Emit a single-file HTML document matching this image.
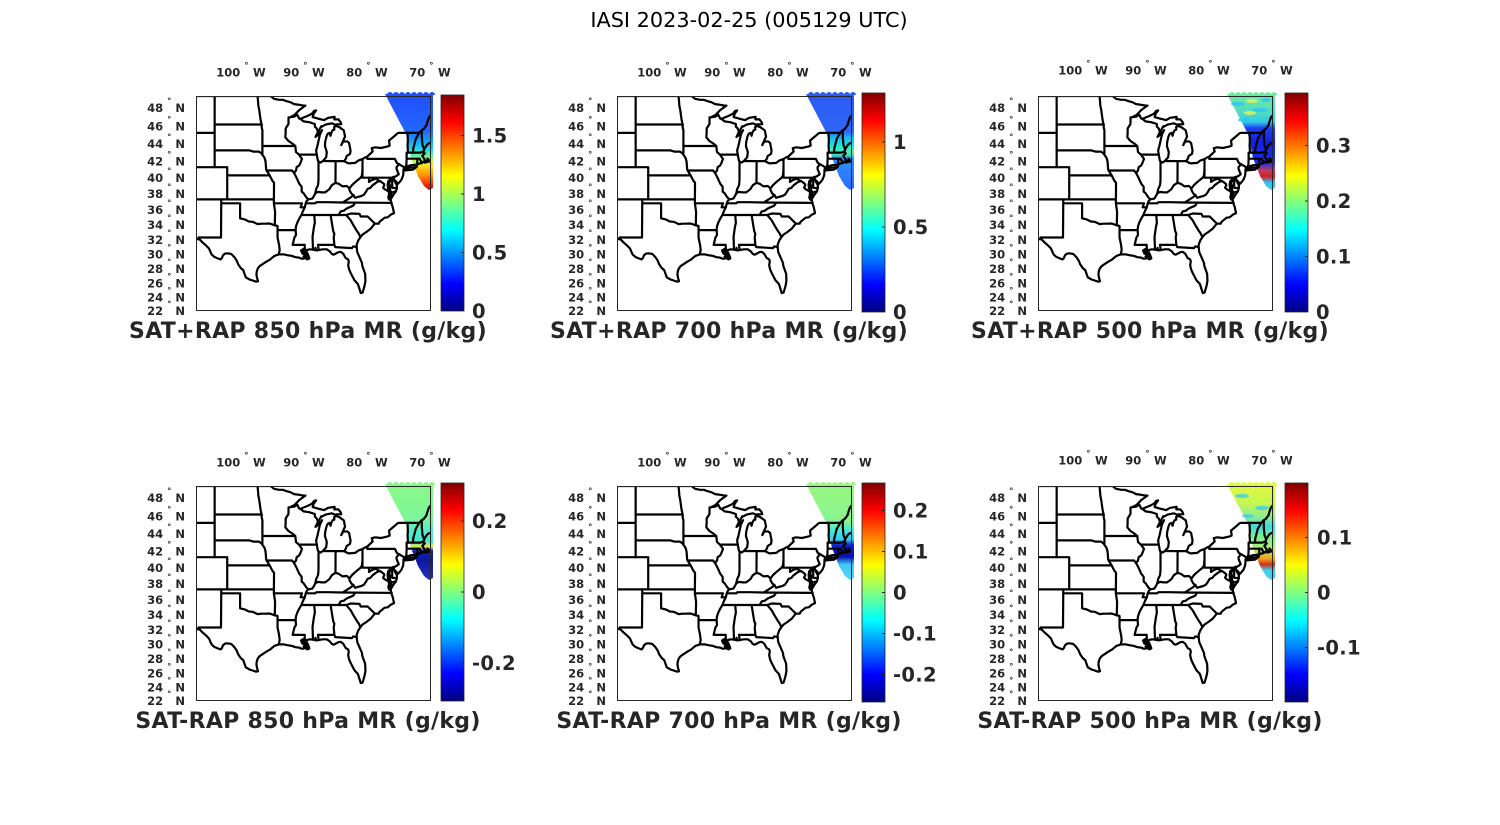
<!DOCTYPE html>
<html><head><meta charset="utf-8">
<style>
html,body{margin:0;padding:0;background:#fff;}
svg{display:block}
text{font-family:"DejaVu Sans","Liberation Sans",sans-serif;fill:#262626}
.ll{font-size:11.5px;font-weight:bold}
.cb{font-size:19.5px;font-weight:bold;letter-spacing:0.3px}
.tt{font-size:22px;font-weight:bold;letter-spacing:0.3px}
.mt{font-size:20.8px;fill:#000}
.mp polyline,.mp polygon{fill:none;stroke:#000;stroke-width:2.2;stroke-linejoin:round;stroke-linecap:round;vector-effect:non-scaling-stroke}
.mp .blob{fill:#000}
</style></head><body>
<svg width="1500" height="825" viewBox="0 0 1500 825" xmlns="http://www.w3.org/2000/svg">
<defs>
<clipPath id="bc"><rect x="0" y="0" width="234" height="214"/></clipPath>
<linearGradient id="jet" x1="0" y1="1" x2="0" y2="0">
<stop offset="0" stop-color="#000080"/><stop offset="0.125" stop-color="#0000ff"/><stop offset="0.375" stop-color="#00ffff"/><stop offset="0.625" stop-color="#ffff00"/><stop offset="0.875" stop-color="#ff0000"/><stop offset="1" stop-color="#800000"/>
</linearGradient>
<linearGradient id="s1" gradientUnits="userSpaceOnUse" x1="0" y1="-3" x2="0" y2="94">
<stop offset="0.03" stop-color="#2050ff"/><stop offset="0.39" stop-color="#2565ff"/><stop offset="0.49" stop-color="#10a0ff"/><stop offset="0.58" stop-color="#20d8e8"/><stop offset="0.68" stop-color="#90ff70"/><stop offset="0.75" stop-color="#ffe020"/><stop offset="0.84" stop-color="#ff9a00"/><stop offset="0.92" stop-color="#ff4000"/><stop offset="1" stop-color="#d00000"/>
</linearGradient>
<linearGradient id="s2" gradientUnits="userSpaceOnUse" x1="0" y1="-3" x2="0" y2="94">
<stop offset="0.03" stop-color="#2c5cf2"/><stop offset="0.40" stop-color="#2e66f6"/><stop offset="0.46" stop-color="#18b8f0"/><stop offset="0.55" stop-color="#20e8d8"/><stop offset="0.62" stop-color="#50f0a0"/><stop offset="0.68" stop-color="#2a90ff"/><stop offset="1" stop-color="#2f6cff"/>
</linearGradient>
<linearGradient id="s3" gradientUnits="userSpaceOnUse" x1="0" y1="-3" x2="0" y2="94">
<stop offset="0" stop-color="#70eca0"/><stop offset="0.2" stop-color="#50dcc0"/><stop offset="0.3" stop-color="#30c8e8"/><stop offset="0.36" stop-color="#2040f0"/><stop offset="0.5" stop-color="#1020e0"/><stop offset="0.72" stop-color="#1a30e8"/><stop offset="0.8" stop-color="#c04060"/><stop offset="0.86" stop-color="#d02020"/><stop offset="0.92" stop-color="#30c0f0"/><stop offset="1" stop-color="#40d0f0"/>
</linearGradient>
<linearGradient id="s4" gradientUnits="userSpaceOnUse" x1="0" y1="-3" x2="0" y2="94">
<stop offset="0.03" stop-color="#88f888"/><stop offset="0.38" stop-color="#7ef598"/><stop offset="0.48" stop-color="#50eec8"/><stop offset="0.6" stop-color="#48e8d0"/><stop offset="0.66" stop-color="#e8e840"/><stop offset="0.70" stop-color="#1020b0"/><stop offset="0.8" stop-color="#1018a0"/><stop offset="1" stop-color="#2030c0"/>
</linearGradient>
<linearGradient id="s5" gradientUnits="userSpaceOnUse" x1="0" y1="-3" x2="0" y2="94">
<stop offset="0.03" stop-color="#98f880"/><stop offset="0.4" stop-color="#88f490"/><stop offset="0.48" stop-color="#48e8d8"/><stop offset="0.58" stop-color="#30d0f0"/><stop offset="0.64" stop-color="#1020c8"/><stop offset="0.76" stop-color="#0a10b0"/><stop offset="0.84" stop-color="#40c8f8"/><stop offset="1" stop-color="#50d8f8"/>
</linearGradient>
<linearGradient id="s6" gradientUnits="userSpaceOnUse" x1="0" y1="-3" x2="0" y2="94">
<stop offset="0.03" stop-color="#e0f840"/><stop offset="0.2" stop-color="#c8f850"/><stop offset="0.35" stop-color="#90ec90"/><stop offset="0.45" stop-color="#40d8e0"/><stop offset="0.55" stop-color="#78f090"/><stop offset="0.68" stop-color="#b0f070"/><stop offset="0.78" stop-color="#f0a020"/><stop offset="0.84" stop-color="#d03020"/><stop offset="0.9" stop-color="#40d0f0"/><stop offset="1" stop-color="#40d0f0"/>
</linearGradient>
<path id="sw" d="M189,-2 L237,-2 L237,92 L233,94 L228,90 L222,80 L215,62 L210,38 Z M191,-1 a3,3 0 1,1 6,0 a3,3 0 1,1 6,0 a3,3 0 1,1 6,0 a3,3 0 1,1 6,0 a3,3 0 1,1 6,0 a3,3 0 1,1 6,0 a3,3 0 1,1 6,0 a3,3 0 1,1 6,0"/>
<g id="m" class="mp" transform="matrix(-6.283,0,0,1,672.4,0)">
<polyline points="107.1,0 95.15,0 94.6,2.8 93.8,3.8 93.2,3.8 92.6,5.2 92.0,6.2 91.4,8.1 90.8,8.6 90.0,9.5 89.6,9.6 90.6,14.1 91.3,18.8 92.1,21.3 91.4,20.7 90.9,18.8 90.6,22.5 90.4,22.9 89.9,21.5 89.3,20.0 88.6,17.9 88.2,14.8 87.9,14.4 88.3,17.9 88.45,21.1 87.4,22.9 86.65,24.1 85.98,21.8 84.95,20.9 85.0,23.4 84.35,23.4 84.0,26.2 83.9,28.2 84.7,28.4 84.72,29.2 85.4,27.3 86.3,28.4 86.6,29.3 87.0,30.7 87.07,30.2 87.6,36.0 88.0,40.9 87.55,38.7 86.95,34.2 87.3,38.7 87.55,45.7 87.7,50.0 87.9,54.4 87.8,58.6 87.62,64.6 87.52,65.4 87.2,66.6 86.82,65.0 86.3,61.2 86.2,56.1 86.5,50.0 86.45,45.7 86.24,40.2 86.05,37.8 85.75,36.9 85.6,39.8 85.5,37.0 85.26,34.2 85.0,33.6 85.04,31.2 84.73,29.9 84.2,31.2 83.5,34.4 83.43,36.4 83.3,40.6 83.5,43.3 83.9,49.1 83.6,45.7 82.98,45.3 82.65,47.0 82.42,54.6 82.5,57.8 83.05,60.1 83.15,62.5 83.45,65.1 82.9,67.0 82.7,67.4 82.0,67.0 81.7,67.0 81.2,64.6 80.52,63.1 80.1,61.4 79.76,60.6 78.9,55.4 79.05,52.2 78.5,51.3 77.6,52.0 76.5,50.4 76.2,49.6 76.25,46.6 76.3,44.6 75.5,40.4 74.9,37.1 74.7,36.9 71.5,36.9 71.1,34.2 70.85,33.4 70.6,31.6 70.3,28.9 70.25,27.1 70.05,23.4 69.95,21.5 69.6,19.0"/>
<polyline points="90.4,22.9 89.9,25.4 89.0,26.2 88.1,28.0 88.1,30.7 87.8,32.5 87.6,36.0"/>
<polyline points="86.82,65.0 84.8,65.1 83.45,65.1"/>
<polyline points="69.5,46.6 70.0,47.4 70.25,48.7 70.6,52.0 70.7,53.5 70.8,55.5 70.8,57.2 70.6,57.3 71.0,59.9 70.65,63.3 70.5,64.8 70.05,64.7 70.2,62.5 70.0,63.3 69.95,65.6 70.6,66.6 70.75,65.4 71.0,66.6 71.1,67.2 71.4,67.4 71.85,68.6 72.9,69.3 73.65,71.2 73.8,72.4 74.0,73.3 74.0,74.6 74.0,75.7 74.05,79.4 74.3,83.5 74.6,86.0 74.95,88.2 75.1,86.0 75.5,83.5 75.56,82.4 75.55,82.7 75.4,85.1 75.05,89.2 75.05,92.0 75.2,95.4 75.6,98.7 75.95,102.5 75.9,98.7 76.0,95.6 76.2,93.2 76.1,90.0 76.3,87.6 76.05,83.9 76.1,83.1 76.4,85.1 76.5,88.4 76.45,92.4 76.3,95.2 76.3,98.7 76.4,101.4 76.3,103.4 76.0,104.2 75.95,106.9 75.7,111.3 75.5,117.1 76.0,118.6 76.5,121.3 77.0,121.7 77.8,125.8 77.95,127.7 78.55,127.6 79.2,132.6 79.9,136.0 80.5,138.5 80.85,141.1 81.2,144.5 81.45,148.9 81.45,151.1 81.35,156.2 81.0,161.2 80.6,167.0 80.55,169.9 80.1,177.7 80.05,184.9 80.2,190.0 80.5,196.5 80.8,197.0 81.0,193.0 81.25,188.0 81.8,184.2 82.1,180.6 82.4,177.0 82.65,173.4 82.8,169.2 82.7,165.6 82.8,163.4 83.2,162.0 83.6,157.6 84.0,155.8 84.35,156.2 84.9,158.0 85.1,158.7 85.4,158.0 85.7,155.5 86.2,153.3 86.8,153.3 87.3,153.8 87.55,154.2 87.9,154.4 88.0,151.8 88.05,154.2 88.4,153.6 88.9,153.3 89.35,154.0 89.6,154.7 89.4,156.2 89.3,158.4 89.1,161.0 89.0,162.5 89.3,163.4 89.6,162.0 90.0,162.7 90.2,162.7 90.6,161.6 91.2,161.2 91.8,159.8 92.3,159.4 93.0,158.4 93.85,158.4 94.5,159.8 94.8,161.2 95.2,163.4 95.8,165.6 96.4,168.1 96.9,170.2 97.2,172.7 97.35,175.6 97.4,178.4 97.3,182.0 97.15,185.3 97.5,185.6 98.0,184.5 98.5,183.5 99.1,181.3 99.3,177.7 99.5,174.1 99.9,172.0 100.3,168.4 100.55,164.5 100.9,161.2 101.4,158.0 102.0,157.3 102.4,157.6 102.7,159.1 102.9,162.0 103.1,163.4 103.3,163.0 103.7,162.0 104.1,160.9 104.5,158.7 104.7,156.2 104.95,152.5 105.4,149.6 106.0,146.3 106.4,143.7 106.53,143.1 107.1,143.1"/>
<polygon class="blob" points="89.6,154.7 89.9,153.0 90.3,154.5 90.1,157.5 89.5,158.5 89.9,160.5 89.3,163.0 89.0,162.0 89.2,158.5 89.4,156.2"/>
<polygon class="blob" points="75.9,98.7 76.0,95.6 76.2,93.2 76.1,90.0 76.3,87.6 76.4,85.1 76.5,88.4 76.45,92.4 76.3,95.2 76.3,98.7 76.4,101.4 76.1,101.0"/>
<polyline points="104.05,0 104.05,71.2"/>
<polyline points="107.1,36.9 104.05,36.9"/>
<polyline points="104.05,28.5 96.56,28.5"/>
<polyline points="97.23,0 97.15,4.7 97.1,9.5 96.95,14.1 96.85,18.8 96.75,23.4 96.6,28.0 96.56,28.5 96.56,31.6 96.45,34.2 96.45,50.0 96.45,58.7"/>
<polyline points="104.05,54.4 98.5,54.4 97.9,55.6 97.0,55.6 96.6,57.4 96.45,58.7 96.1,62.0 95.95,65.4 95.9,69.5 95.85,73.5 95.77,74.5 95.3,79.4 94.9,84.3 94.6,86.8 94.62,103.4 94.62,107.3 94.43,115.9 94.48,129.3 94.04,130.0 94.04,141.5 93.8,148.9 93.7,154.0 93.85,158.4"/>
<polyline points="102.05,79.4 95.3,79.4"/>
<polyline points="107.1,71.2 102.05,71.2 102.05,103.4"/>
<polyline points="107.1,103.4 94.62,103.4"/>
<polyline points="103.0,103.4 103.0,107.3 103.04,141.5 106.62,141.5 106.53,143.1"/>
<polyline points="103.0,107.3 100.0,107.3 100.0,122.3 99.2,123.6 98.6,125.5 98.0,125.8 97.2,128.1 96.6,127.7 96.0,127.7 95.3,127.5 94.48,129.3"/>
<polyline points="94.62,107.3 90.15,107.3 90.37,111.3 89.7,111.3"/>
<polyline points="94.04,134.1 91.17,134.1"/>
<polyline points="89.73,148.9 91.64,148.9 91.5,145.2 91.35,141.5 91.1,138.9 91.17,134.1 91.1,130.3 90.9,126.6 90.6,122.8 90.25,119.0 90.0,115.1 89.7,111.3 89.55,107.3 89.4,105.0 89.15,103.4 89.5,101.0 89.9,97.2 90.2,95.6 90.2,90.8 90.6,87.6 91.0,81.9 91.42,76.9 91.1,74.5 91.0,71.2 90.6,69.5 90.4,67.0 90.15,62.9 90.64,58.6 91.1,56.1 91.22,50.0 91.7,47.5 92.3,45.0 92.8,41.3 92.75,36.9 92.75,32.5 92.3,28.0 92.29,21.4"/>
<polyline points="96.45,50.0 91.22,50.0"/>
<polyline points="95.77,74.5 91.73,74.5 91.42,76.9"/>
<polyline points="90.64,58.6 87.8,58.6"/>
<polyline points="87.52,65.4 87.52,82.7 87.53,85.1 87.6,89.2 87.9,93.2 88.03,97.2"/>
<polyline points="89.15,103.4 88.5,102.6 88.2,99.5 88.03,97.2 87.6,95.9 87.0,96.4 86.5,96.4 86.2,95.2 85.8,93.2 85.4,89.2 84.82,86.8 84.3,87.8 83.7,90.4 83.0,90.0 82.6,92.4 82.2,89.2 81.8,86.8 81.4,84.7 80.85,81.9 80.6,79.4 80.52,74.2"/>
<polyline points="84.8,65.1 84.82,86.8"/>
<polyline points="80.52,63.1 80.52,81.7 75.79,81.7"/>
<polyline points="79.48,81.7 79.48,86.0 79.0,83.9 78.4,82.7 77.8,85.1 77.73,85.1 78.2,86.0 78.9,89.2 79.3,92.0 79.7,92.8 79.95,95.6 80.3,98.7 80.8,100.2 81.3,101.0 81.7,101.8 81.97,99.0 82.3,97.5 82.6,94.0 82.6,92.4"/>
<polyline points="81.97,99.0 82.3,101.0 82.9,103.4 83.67,106.5 86.0,106.2 87.85,106.2 88.05,107.3 89.55,107.3"/>
<polyline points="83.67,106.5 81.68,106.6 75.87,106.9"/>
<polyline points="77.73,85.1 77.5,86.0 77.1,88.0 77.05,89.2 77.25,91.6 77.0,93.2 76.3,95.6"/>
<polyline points="75.79,81.7 75.79,91.9 75.05,92.0"/>
<polyline points="75.65,96.0 75.24,95.4"/>
<polyline points="75.79,81.7 75.6,80.8 75.42,81.0 75.1,79.8 74.75,78.2 74.95,75.3 75.1,72.8 75.1,71.2 74.7,68.2 75.05,67.0 75.36,62.9 79.76,62.9 79.76,60.6"/>
<polyline points="74.7,68.2 73.9,71.2"/>
<polyline points="73.65,71.2 73.52,68.2 73.52,65.7 73.49,62.5 73.5,56.6 73.27,56.6 73.35,49.1 73.3,45.7 73.35,36.9"/>
<polyline points="73.49,62.7 71.8,62.7 71.8,68.6"/>
<polyline points="71.8,62.7 71.38,62.7 71.38,63.7 71.2,65.0 71.1,67.0"/>
<polyline points="73.26,56.6 71.3,56.6 71.0,55.8 70.8,55.5"/>
<polyline points="72.46,56.6 72.45,52.7 72.3,49.1 72.05,43.0 71.5,36.9"/>
<polyline points="70.7,53.5 70.97,49.1 71.08,41.3 71.08,34.2"/>
<polyline points="81.68,106.6 82.0,109.7 82.6,111.3 83.1,112.8 83.5,114.7 84.0,115.5 84.32,119.0 90.1,119.0"/>
<polyline points="84.32,119.0 83.1,119.0 82.4,117.5 81.0,117.9 80.8,120.5 79.7,120.5 78.55,127.6"/>
<polyline points="83.1,119.0 82.8,121.3 82.4,124.3 82.0,128.8 81.5,134.1 81.1,137.8 80.85,141.1"/>
<polyline points="85.6,119.0 85.18,135.2 85.0,137.8 85.1,141.5 85.05,145.2 85.0,148.9"/>
<polyline points="87.6,148.9 85.0,148.9 84.86,151.1 82.2,152.1 82.0,150.4 81.45,151.1"/>
<polyline points="87.6,148.9 87.5,154.0"/>
<polyline points="88.2,119.0 88.1,126.6 88.25,131.1 88.47,140.8 88.4,153.6"/>
<polyline points="89.73,148.9 89.7,152.5 89.6,154.7"/>
<polygon points="73.95,74.5 72.5,73.7 71.86,70.6 72.3,71.4 73.0,71.6 73.75,72.8"/>
</g>
</defs>
<rect width="1500" height="825" fill="#fff"/>
<text class="mt" x="749" y="27" text-anchor="middle">IASI 2023-02-25 (005129 UTC)</text>

<!-- Panel 1 -->
<g transform="translate(196,96)">
<use href="#sw" fill="url(#s1)"/>
<g clip-path="url(#bc)"><use href="#m"/></g>
<rect x="0.5" y="0.5" width="234" height="214" fill="none" stroke="#262626" stroke-width="1"/>
<text class="ll" text-anchor="middle" x="45" y="-19.5">100<tspan dx="4" dy="-8" font-size="8.5">°</tspan><tspan dx="4.5" dy="8">W</tspan></text>
<text class="ll" text-anchor="middle" x="108" y="-19.5">90<tspan dx="4" dy="-8" font-size="8.5">°</tspan><tspan dx="4.5" dy="8">W</tspan></text>
<text class="ll" text-anchor="middle" x="171" y="-19.5">80<tspan dx="4" dy="-8" font-size="8.5">°</tspan><tspan dx="4.5" dy="8">W</tspan></text>
<text class="ll" text-anchor="middle" x="234" y="-19.5">70<tspan dx="4" dy="-8" font-size="8.5">°</tspan><tspan dx="4.5" dy="8">W</tspan></text>
<text class="ll" text-anchor="end" x="-11" y="16">48<tspan dx="4" dy="-8" font-size="8.5">°</tspan><tspan dx="4" dy="8">N</tspan></text>
<text class="ll" text-anchor="end" x="-11" y="34.5">46<tspan dx="4" dy="-8" font-size="8.5">°</tspan><tspan dx="4" dy="8">N</tspan></text>
<text class="ll" text-anchor="end" x="-11" y="52.2">44<tspan dx="4" dy="-8" font-size="8.5">°</tspan><tspan dx="4" dy="8">N</tspan></text>
<text class="ll" text-anchor="end" x="-11" y="69.4">42<tspan dx="4" dy="-8" font-size="8.5">°</tspan><tspan dx="4" dy="8">N</tspan></text>
<text class="ll" text-anchor="end" x="-11" y="85.9">40<tspan dx="4" dy="-8" font-size="8.5">°</tspan><tspan dx="4" dy="8">N</tspan></text>
<text class="ll" text-anchor="end" x="-11" y="102.1">38<tspan dx="4" dy="-8" font-size="8.5">°</tspan><tspan dx="4" dy="8">N</tspan></text>
<text class="ll" text-anchor="end" x="-11" y="117.8">36<tspan dx="4" dy="-8" font-size="8.5">°</tspan><tspan dx="4" dy="8">N</tspan></text>
<text class="ll" text-anchor="end" x="-11" y="133.1">34<tspan dx="4" dy="-8" font-size="8.5">°</tspan><tspan dx="4" dy="8">N</tspan></text>
<text class="ll" text-anchor="end" x="-11" y="148">32<tspan dx="4" dy="-8" font-size="8.5">°</tspan><tspan dx="4" dy="8">N</tspan></text>
<text class="ll" text-anchor="end" x="-11" y="162.7">30<tspan dx="4" dy="-8" font-size="8.5">°</tspan><tspan dx="4" dy="8">N</tspan></text>
<text class="ll" text-anchor="end" x="-11" y="177.1">28<tspan dx="4" dy="-8" font-size="8.5">°</tspan><tspan dx="4" dy="8">N</tspan></text>
<text class="ll" text-anchor="end" x="-11" y="191.4">26<tspan dx="4" dy="-8" font-size="8.5">°</tspan><tspan dx="4" dy="8">N</tspan></text>
<text class="ll" text-anchor="end" x="-11" y="205.3">24<tspan dx="4" dy="-8" font-size="8.5">°</tspan><tspan dx="4" dy="8">N</tspan></text>
<text class="ll" text-anchor="end" x="-11" y="218.9">22<tspan dx="4" dy="-8" font-size="8.5">°</tspan><tspan dx="4" dy="8">N</tspan></text>
<text class="tt" text-anchor="middle" x="112" y="242">SAT+RAP 850 hPa MR (g/kg)</text>
</g>
<rect x="441" y="95" width="23" height="216" fill="url(#jet)" stroke="#262626" stroke-width="0.8"/>
<g stroke="#262626" stroke-width="1"><line x1="461" y1="252.5" x2="464" y2="252.5"/><line x1="461" y1="194" x2="464" y2="194"/><line x1="461" y1="135.5" x2="464" y2="135.5"/></g>
<text class="cb" x="472" y="318">0</text><text class="cb" x="472" y="259.5">0.5</text><text class="cb" x="472" y="201">1</text><text class="cb" x="472" y="142.5">1.5</text>

<!-- Panel 2 -->
<g transform="translate(617,96)">
<use href="#sw" fill="url(#s2)"/>
<g clip-path="url(#bc)"><use href="#m"/></g>
<rect x="0.5" y="0.5" width="234" height="214" fill="none" stroke="#262626" stroke-width="1"/>
<text class="ll" text-anchor="middle" x="45" y="-19.5">100<tspan dx="4" dy="-8" font-size="8.5">°</tspan><tspan dx="4.5" dy="8">W</tspan></text>
<text class="ll" text-anchor="middle" x="108" y="-19.5">90<tspan dx="4" dy="-8" font-size="8.5">°</tspan><tspan dx="4.5" dy="8">W</tspan></text>
<text class="ll" text-anchor="middle" x="171" y="-19.5">80<tspan dx="4" dy="-8" font-size="8.5">°</tspan><tspan dx="4.5" dy="8">W</tspan></text>
<text class="ll" text-anchor="middle" x="234" y="-19.5">70<tspan dx="4" dy="-8" font-size="8.5">°</tspan><tspan dx="4.5" dy="8">W</tspan></text>
<text class="ll" text-anchor="end" x="-11" y="16">48<tspan dx="4" dy="-8" font-size="8.5">°</tspan><tspan dx="4" dy="8">N</tspan></text>
<text class="ll" text-anchor="end" x="-11" y="34.5">46<tspan dx="4" dy="-8" font-size="8.5">°</tspan><tspan dx="4" dy="8">N</tspan></text>
<text class="ll" text-anchor="end" x="-11" y="52.2">44<tspan dx="4" dy="-8" font-size="8.5">°</tspan><tspan dx="4" dy="8">N</tspan></text>
<text class="ll" text-anchor="end" x="-11" y="69.4">42<tspan dx="4" dy="-8" font-size="8.5">°</tspan><tspan dx="4" dy="8">N</tspan></text>
<text class="ll" text-anchor="end" x="-11" y="85.9">40<tspan dx="4" dy="-8" font-size="8.5">°</tspan><tspan dx="4" dy="8">N</tspan></text>
<text class="ll" text-anchor="end" x="-11" y="102.1">38<tspan dx="4" dy="-8" font-size="8.5">°</tspan><tspan dx="4" dy="8">N</tspan></text>
<text class="ll" text-anchor="end" x="-11" y="117.8">36<tspan dx="4" dy="-8" font-size="8.5">°</tspan><tspan dx="4" dy="8">N</tspan></text>
<text class="ll" text-anchor="end" x="-11" y="133.1">34<tspan dx="4" dy="-8" font-size="8.5">°</tspan><tspan dx="4" dy="8">N</tspan></text>
<text class="ll" text-anchor="end" x="-11" y="148">32<tspan dx="4" dy="-8" font-size="8.5">°</tspan><tspan dx="4" dy="8">N</tspan></text>
<text class="ll" text-anchor="end" x="-11" y="162.7">30<tspan dx="4" dy="-8" font-size="8.5">°</tspan><tspan dx="4" dy="8">N</tspan></text>
<text class="ll" text-anchor="end" x="-11" y="177.1">28<tspan dx="4" dy="-8" font-size="8.5">°</tspan><tspan dx="4" dy="8">N</tspan></text>
<text class="ll" text-anchor="end" x="-11" y="191.4">26<tspan dx="4" dy="-8" font-size="8.5">°</tspan><tspan dx="4" dy="8">N</tspan></text>
<text class="ll" text-anchor="end" x="-11" y="205.3">24<tspan dx="4" dy="-8" font-size="8.5">°</tspan><tspan dx="4" dy="8">N</tspan></text>
<text class="ll" text-anchor="end" x="-11" y="218.9">22<tspan dx="4" dy="-8" font-size="8.5">°</tspan><tspan dx="4" dy="8">N</tspan></text>
<text class="tt" text-anchor="middle" x="112" y="242">SAT+RAP 700 hPa MR (g/kg)</text>
</g>
<rect x="862" y="93" width="23" height="219" fill="url(#jet)" stroke="#262626" stroke-width="0.8"/>
<g stroke="#262626" stroke-width="1"><line x1="882" y1="227" x2="885" y2="227"/><line x1="882" y1="142" x2="885" y2="142"/></g>
<text class="cb" x="893" y="319">0</text><text class="cb" x="893" y="234">0.5</text><text class="cb" x="893" y="149">1</text>

<!-- Panel 3 -->
<g transform="translate(1038,96)">
<use href="#sw" fill="url(#s3)"/>
<g fill="#30c8f0" opacity="0.85"><ellipse cx="200" cy="8" rx="7" ry="2.2"/><ellipse cx="222" cy="14" rx="8" ry="2.2"/><ellipse cx="206" cy="24" rx="6" ry="2"/><ellipse cx="228" cy="4" rx="5" ry="2"/></g>
<g fill="#e8f060" opacity="0.8"><ellipse cx="214" cy="5" rx="6" ry="2"/><ellipse cx="212" cy="17" rx="6" ry="2"/></g>
<g clip-path="url(#bc)"><use href="#m"/></g>
<rect x="0.5" y="0.5" width="234" height="214" fill="none" stroke="#262626" stroke-width="1"/>
<text class="ll" text-anchor="middle" x="45" y="-21.5">100<tspan dx="4" dy="-8" font-size="8.5">°</tspan><tspan dx="4.5" dy="8">W</tspan></text>
<text class="ll" text-anchor="middle" x="108" y="-21.5">90<tspan dx="4" dy="-8" font-size="8.5">°</tspan><tspan dx="4.5" dy="8">W</tspan></text>
<text class="ll" text-anchor="middle" x="171" y="-21.5">80<tspan dx="4" dy="-8" font-size="8.5">°</tspan><tspan dx="4.5" dy="8">W</tspan></text>
<text class="ll" text-anchor="middle" x="234" y="-21.5">70<tspan dx="4" dy="-8" font-size="8.5">°</tspan><tspan dx="4.5" dy="8">W</tspan></text>
<text class="ll" text-anchor="end" x="-11" y="16">48<tspan dx="4" dy="-8" font-size="8.5">°</tspan><tspan dx="4" dy="8">N</tspan></text>
<text class="ll" text-anchor="end" x="-11" y="34.5">46<tspan dx="4" dy="-8" font-size="8.5">°</tspan><tspan dx="4" dy="8">N</tspan></text>
<text class="ll" text-anchor="end" x="-11" y="52.2">44<tspan dx="4" dy="-8" font-size="8.5">°</tspan><tspan dx="4" dy="8">N</tspan></text>
<text class="ll" text-anchor="end" x="-11" y="69.4">42<tspan dx="4" dy="-8" font-size="8.5">°</tspan><tspan dx="4" dy="8">N</tspan></text>
<text class="ll" text-anchor="end" x="-11" y="85.9">40<tspan dx="4" dy="-8" font-size="8.5">°</tspan><tspan dx="4" dy="8">N</tspan></text>
<text class="ll" text-anchor="end" x="-11" y="102.1">38<tspan dx="4" dy="-8" font-size="8.5">°</tspan><tspan dx="4" dy="8">N</tspan></text>
<text class="ll" text-anchor="end" x="-11" y="117.8">36<tspan dx="4" dy="-8" font-size="8.5">°</tspan><tspan dx="4" dy="8">N</tspan></text>
<text class="ll" text-anchor="end" x="-11" y="133.1">34<tspan dx="4" dy="-8" font-size="8.5">°</tspan><tspan dx="4" dy="8">N</tspan></text>
<text class="ll" text-anchor="end" x="-11" y="148">32<tspan dx="4" dy="-8" font-size="8.5">°</tspan><tspan dx="4" dy="8">N</tspan></text>
<text class="ll" text-anchor="end" x="-11" y="162.7">30<tspan dx="4" dy="-8" font-size="8.5">°</tspan><tspan dx="4" dy="8">N</tspan></text>
<text class="ll" text-anchor="end" x="-11" y="177.1">28<tspan dx="4" dy="-8" font-size="8.5">°</tspan><tspan dx="4" dy="8">N</tspan></text>
<text class="ll" text-anchor="end" x="-11" y="191.4">26<tspan dx="4" dy="-8" font-size="8.5">°</tspan><tspan dx="4" dy="8">N</tspan></text>
<text class="ll" text-anchor="end" x="-11" y="205.3">24<tspan dx="4" dy="-8" font-size="8.5">°</tspan><tspan dx="4" dy="8">N</tspan></text>
<text class="ll" text-anchor="end" x="-11" y="218.9">22<tspan dx="4" dy="-8" font-size="8.5">°</tspan><tspan dx="4" dy="8">N</tspan></text>
<text class="tt" text-anchor="middle" x="112" y="242">SAT+RAP 500 hPa MR (g/kg)</text>
</g>
<rect x="1285" y="93" width="23" height="219" fill="url(#jet)" stroke="#262626" stroke-width="0.8"/>
<g stroke="#262626" stroke-width="1"><line x1="1305" y1="256.5" x2="1308" y2="256.5"/><line x1="1305" y1="201" x2="1308" y2="201"/><line x1="1305" y1="145.5" x2="1308" y2="145.5"/></g>
<text class="cb" x="1316" y="319">0</text><text class="cb" x="1316" y="263.5">0.1</text><text class="cb" x="1316" y="208">0.2</text><text class="cb" x="1316" y="152.5">0.3</text>

<!-- Panel 4 -->
<g transform="translate(196,486)">
<use href="#sw" fill="url(#s4)"/>
<g clip-path="url(#bc)"><use href="#m"/></g>
<rect x="0.5" y="0.5" width="234" height="214" fill="none" stroke="#262626" stroke-width="1"/>
<text class="ll" text-anchor="middle" x="45" y="-19.5">100<tspan dx="4" dy="-8" font-size="8.5">°</tspan><tspan dx="4.5" dy="8">W</tspan></text>
<text class="ll" text-anchor="middle" x="108" y="-19.5">90<tspan dx="4" dy="-8" font-size="8.5">°</tspan><tspan dx="4.5" dy="8">W</tspan></text>
<text class="ll" text-anchor="middle" x="171" y="-19.5">80<tspan dx="4" dy="-8" font-size="8.5">°</tspan><tspan dx="4.5" dy="8">W</tspan></text>
<text class="ll" text-anchor="middle" x="234" y="-19.5">70<tspan dx="4" dy="-8" font-size="8.5">°</tspan><tspan dx="4.5" dy="8">W</tspan></text>
<text class="ll" text-anchor="end" x="-11" y="16">48<tspan dx="4" dy="-8" font-size="8.5">°</tspan><tspan dx="4" dy="8">N</tspan></text>
<text class="ll" text-anchor="end" x="-11" y="34.5">46<tspan dx="4" dy="-8" font-size="8.5">°</tspan><tspan dx="4" dy="8">N</tspan></text>
<text class="ll" text-anchor="end" x="-11" y="52.2">44<tspan dx="4" dy="-8" font-size="8.5">°</tspan><tspan dx="4" dy="8">N</tspan></text>
<text class="ll" text-anchor="end" x="-11" y="69.4">42<tspan dx="4" dy="-8" font-size="8.5">°</tspan><tspan dx="4" dy="8">N</tspan></text>
<text class="ll" text-anchor="end" x="-11" y="85.9">40<tspan dx="4" dy="-8" font-size="8.5">°</tspan><tspan dx="4" dy="8">N</tspan></text>
<text class="ll" text-anchor="end" x="-11" y="102.1">38<tspan dx="4" dy="-8" font-size="8.5">°</tspan><tspan dx="4" dy="8">N</tspan></text>
<text class="ll" text-anchor="end" x="-11" y="117.8">36<tspan dx="4" dy="-8" font-size="8.5">°</tspan><tspan dx="4" dy="8">N</tspan></text>
<text class="ll" text-anchor="end" x="-11" y="133.1">34<tspan dx="4" dy="-8" font-size="8.5">°</tspan><tspan dx="4" dy="8">N</tspan></text>
<text class="ll" text-anchor="end" x="-11" y="148">32<tspan dx="4" dy="-8" font-size="8.5">°</tspan><tspan dx="4" dy="8">N</tspan></text>
<text class="ll" text-anchor="end" x="-11" y="162.7">30<tspan dx="4" dy="-8" font-size="8.5">°</tspan><tspan dx="4" dy="8">N</tspan></text>
<text class="ll" text-anchor="end" x="-11" y="177.1">28<tspan dx="4" dy="-8" font-size="8.5">°</tspan><tspan dx="4" dy="8">N</tspan></text>
<text class="ll" text-anchor="end" x="-11" y="191.4">26<tspan dx="4" dy="-8" font-size="8.5">°</tspan><tspan dx="4" dy="8">N</tspan></text>
<text class="ll" text-anchor="end" x="-11" y="205.3">24<tspan dx="4" dy="-8" font-size="8.5">°</tspan><tspan dx="4" dy="8">N</tspan></text>
<text class="ll" text-anchor="end" x="-11" y="218.9">22<tspan dx="4" dy="-8" font-size="8.5">°</tspan><tspan dx="4" dy="8">N</tspan></text>
<text class="tt" text-anchor="middle" x="112" y="242">SAT-RAP 850 hPa MR (g/kg)</text>
</g>
<rect x="441" y="483" width="23" height="218" fill="url(#jet)" stroke="#262626" stroke-width="0.8"/>
<g stroke="#262626" stroke-width="1"><line x1="461" y1="521" x2="464" y2="521"/><line x1="461" y1="592" x2="464" y2="592"/><line x1="461" y1="663" x2="464" y2="663"/></g>
<text class="cb" x="472" y="528">0.2</text><text class="cb" x="472" y="599">0</text><text class="cb" x="472" y="670">-0.2</text>

<!-- Panel 5 -->
<g transform="translate(617,486)">
<use href="#sw" fill="url(#s5)"/>
<g clip-path="url(#bc)"><use href="#m"/></g>
<rect x="0.5" y="0.5" width="234" height="214" fill="none" stroke="#262626" stroke-width="1"/>
<text class="ll" text-anchor="middle" x="45" y="-19.5">100<tspan dx="4" dy="-8" font-size="8.5">°</tspan><tspan dx="4.5" dy="8">W</tspan></text>
<text class="ll" text-anchor="middle" x="108" y="-19.5">90<tspan dx="4" dy="-8" font-size="8.5">°</tspan><tspan dx="4.5" dy="8">W</tspan></text>
<text class="ll" text-anchor="middle" x="171" y="-19.5">80<tspan dx="4" dy="-8" font-size="8.5">°</tspan><tspan dx="4.5" dy="8">W</tspan></text>
<text class="ll" text-anchor="middle" x="234" y="-19.5">70<tspan dx="4" dy="-8" font-size="8.5">°</tspan><tspan dx="4.5" dy="8">W</tspan></text>
<text class="ll" text-anchor="end" x="-11" y="16">48<tspan dx="4" dy="-8" font-size="8.5">°</tspan><tspan dx="4" dy="8">N</tspan></text>
<text class="ll" text-anchor="end" x="-11" y="34.5">46<tspan dx="4" dy="-8" font-size="8.5">°</tspan><tspan dx="4" dy="8">N</tspan></text>
<text class="ll" text-anchor="end" x="-11" y="52.2">44<tspan dx="4" dy="-8" font-size="8.5">°</tspan><tspan dx="4" dy="8">N</tspan></text>
<text class="ll" text-anchor="end" x="-11" y="69.4">42<tspan dx="4" dy="-8" font-size="8.5">°</tspan><tspan dx="4" dy="8">N</tspan></text>
<text class="ll" text-anchor="end" x="-11" y="85.9">40<tspan dx="4" dy="-8" font-size="8.5">°</tspan><tspan dx="4" dy="8">N</tspan></text>
<text class="ll" text-anchor="end" x="-11" y="102.1">38<tspan dx="4" dy="-8" font-size="8.5">°</tspan><tspan dx="4" dy="8">N</tspan></text>
<text class="ll" text-anchor="end" x="-11" y="117.8">36<tspan dx="4" dy="-8" font-size="8.5">°</tspan><tspan dx="4" dy="8">N</tspan></text>
<text class="ll" text-anchor="end" x="-11" y="133.1">34<tspan dx="4" dy="-8" font-size="8.5">°</tspan><tspan dx="4" dy="8">N</tspan></text>
<text class="ll" text-anchor="end" x="-11" y="148">32<tspan dx="4" dy="-8" font-size="8.5">°</tspan><tspan dx="4" dy="8">N</tspan></text>
<text class="ll" text-anchor="end" x="-11" y="162.7">30<tspan dx="4" dy="-8" font-size="8.5">°</tspan><tspan dx="4" dy="8">N</tspan></text>
<text class="ll" text-anchor="end" x="-11" y="177.1">28<tspan dx="4" dy="-8" font-size="8.5">°</tspan><tspan dx="4" dy="8">N</tspan></text>
<text class="ll" text-anchor="end" x="-11" y="191.4">26<tspan dx="4" dy="-8" font-size="8.5">°</tspan><tspan dx="4" dy="8">N</tspan></text>
<text class="ll" text-anchor="end" x="-11" y="205.3">24<tspan dx="4" dy="-8" font-size="8.5">°</tspan><tspan dx="4" dy="8">N</tspan></text>
<text class="ll" text-anchor="end" x="-11" y="218.9">22<tspan dx="4" dy="-8" font-size="8.5">°</tspan><tspan dx="4" dy="8">N</tspan></text>
<text class="tt" text-anchor="middle" x="112" y="242">SAT-RAP 700 hPa MR (g/kg)</text>
</g>
<rect x="862" y="483" width="23" height="219" fill="url(#jet)" stroke="#262626" stroke-width="0.8"/>
<g stroke="#262626" stroke-width="1"><line x1="882" y1="510.5" x2="885" y2="510.5"/><line x1="882" y1="551.5" x2="885" y2="551.5"/><line x1="882" y1="592.5" x2="885" y2="592.5"/><line x1="882" y1="633.5" x2="885" y2="633.5"/><line x1="882" y1="674.5" x2="885" y2="674.5"/></g>
<text class="cb" x="893" y="517.5">0.2</text><text class="cb" x="893" y="558.5">0.1</text><text class="cb" x="893" y="599.5">0</text><text class="cb" x="893" y="640.5">-0.1</text><text class="cb" x="893" y="681.5">-0.2</text>

<!-- Panel 6 -->
<g transform="translate(1038,486)">
<use href="#sw" fill="url(#s6)"/>
<g fill="#40d0e8" opacity="0.8"><ellipse cx="204" cy="10" rx="7" ry="2.2"/><ellipse cx="224" cy="22" rx="7" ry="2.2"/><ellipse cx="210" cy="30" rx="6" ry="2"/></g>
<g clip-path="url(#bc)"><use href="#m"/></g>
<rect x="0.5" y="0.5" width="234" height="214" fill="none" stroke="#262626" stroke-width="1"/>
<text class="ll" text-anchor="middle" x="45" y="-21.5">100<tspan dx="4" dy="-8" font-size="8.5">°</tspan><tspan dx="4.5" dy="8">W</tspan></text>
<text class="ll" text-anchor="middle" x="108" y="-21.5">90<tspan dx="4" dy="-8" font-size="8.5">°</tspan><tspan dx="4.5" dy="8">W</tspan></text>
<text class="ll" text-anchor="middle" x="171" y="-21.5">80<tspan dx="4" dy="-8" font-size="8.5">°</tspan><tspan dx="4.5" dy="8">W</tspan></text>
<text class="ll" text-anchor="middle" x="234" y="-21.5">70<tspan dx="4" dy="-8" font-size="8.5">°</tspan><tspan dx="4.5" dy="8">W</tspan></text>
<text class="ll" text-anchor="end" x="-11" y="16">48<tspan dx="4" dy="-8" font-size="8.5">°</tspan><tspan dx="4" dy="8">N</tspan></text>
<text class="ll" text-anchor="end" x="-11" y="34.5">46<tspan dx="4" dy="-8" font-size="8.5">°</tspan><tspan dx="4" dy="8">N</tspan></text>
<text class="ll" text-anchor="end" x="-11" y="52.2">44<tspan dx="4" dy="-8" font-size="8.5">°</tspan><tspan dx="4" dy="8">N</tspan></text>
<text class="ll" text-anchor="end" x="-11" y="69.4">42<tspan dx="4" dy="-8" font-size="8.5">°</tspan><tspan dx="4" dy="8">N</tspan></text>
<text class="ll" text-anchor="end" x="-11" y="85.9">40<tspan dx="4" dy="-8" font-size="8.5">°</tspan><tspan dx="4" dy="8">N</tspan></text>
<text class="ll" text-anchor="end" x="-11" y="102.1">38<tspan dx="4" dy="-8" font-size="8.5">°</tspan><tspan dx="4" dy="8">N</tspan></text>
<text class="ll" text-anchor="end" x="-11" y="117.8">36<tspan dx="4" dy="-8" font-size="8.5">°</tspan><tspan dx="4" dy="8">N</tspan></text>
<text class="ll" text-anchor="end" x="-11" y="133.1">34<tspan dx="4" dy="-8" font-size="8.5">°</tspan><tspan dx="4" dy="8">N</tspan></text>
<text class="ll" text-anchor="end" x="-11" y="148">32<tspan dx="4" dy="-8" font-size="8.5">°</tspan><tspan dx="4" dy="8">N</tspan></text>
<text class="ll" text-anchor="end" x="-11" y="162.7">30<tspan dx="4" dy="-8" font-size="8.5">°</tspan><tspan dx="4" dy="8">N</tspan></text>
<text class="ll" text-anchor="end" x="-11" y="177.1">28<tspan dx="4" dy="-8" font-size="8.5">°</tspan><tspan dx="4" dy="8">N</tspan></text>
<text class="ll" text-anchor="end" x="-11" y="191.4">26<tspan dx="4" dy="-8" font-size="8.5">°</tspan><tspan dx="4" dy="8">N</tspan></text>
<text class="ll" text-anchor="end" x="-11" y="205.3">24<tspan dx="4" dy="-8" font-size="8.5">°</tspan><tspan dx="4" dy="8">N</tspan></text>
<text class="ll" text-anchor="end" x="-11" y="218.9">22<tspan dx="4" dy="-8" font-size="8.5">°</tspan><tspan dx="4" dy="8">N</tspan></text>
<text class="tt" text-anchor="middle" x="112" y="242">SAT-RAP 500 hPa MR (g/kg)</text>
</g>
<rect x="1285" y="483" width="23" height="219" fill="url(#jet)" stroke="#262626" stroke-width="0.8"/>
<g stroke="#262626" stroke-width="1"><line x1="1305" y1="537.5" x2="1308" y2="537.5"/><line x1="1305" y1="592.5" x2="1308" y2="592.5"/><line x1="1305" y1="647.5" x2="1308" y2="647.5"/></g>
<text class="cb" x="1317" y="544.5">0.1</text><text class="cb" x="1317" y="599.5">0</text><text class="cb" x="1317" y="654.5">-0.1</text>
</svg>
</body></html>
